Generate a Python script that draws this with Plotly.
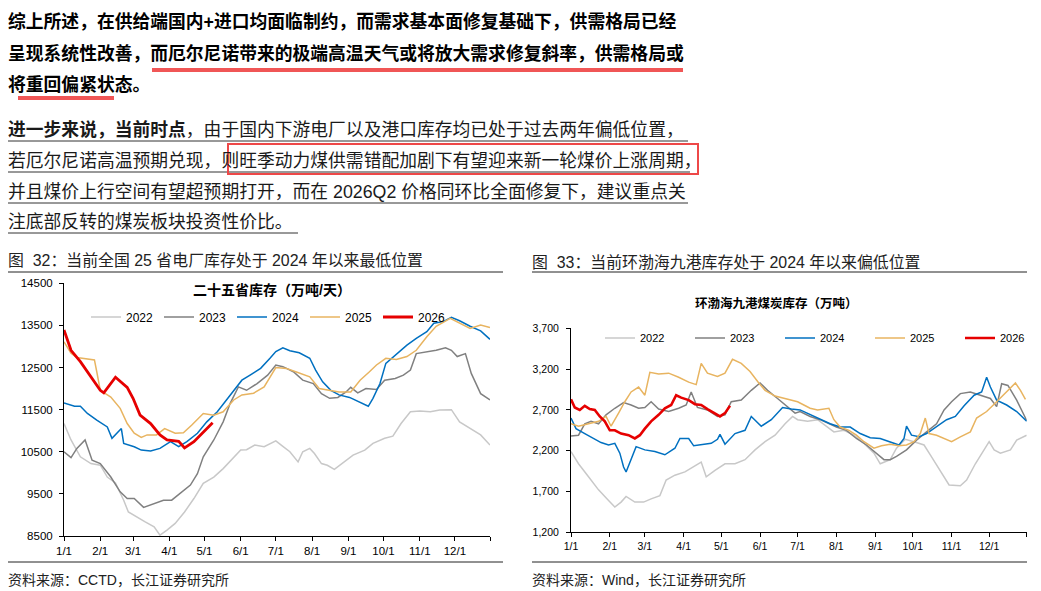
import plotly.graph_objects as go

# ---------------- data: 25 provinces power plant coal stock (10k t) ----------------
L22_DATES = ["01-01", "01-07", "01-15", "01-24", "02-01", "02-07", "02-14", "02-21", "02-25", "03-04",
             "03-11", "03-19", "03-24", "03-30", "04-06", "04-14", "04-22", "04-30", "05-09", "05-17",
             "05-26", "06-01", "06-06", "06-13", "06-21", "07-01", "07-07", "07-13", "07-20", "07-24",
             "07-30", "08-03", "08-09", "08-14", "08-20", "08-27", "09-05", "09-15", "09-22", "10-02",
             "10-09", "10-16", "10-24", "11-01", "11-10", "11-18", "11-28", "12-05", "12-14", "12-23", "12-31"]
L22_VALS = [11170, 10780, 10380, 10220, 10180, 9900, 9760, 9350, 9070, 8950,
            8840, 8720, 8520, 8640, 8800, 9070, 9390, 9750, 9900, 10100,
            10380, 10540, 10550, 10660, 10620, 10760, 10630, 10500, 10260, 10500,
            10580, 10460, 10220, 10180, 10080, 10220, 10420, 10540, 10700, 10820,
            10870, 11170, 11450, 11470, 11450, 11490, 11500, 11210, 11050, 10900, 10660]

L23_DATES = ["01-01", "01-07", "01-12", "01-19", "01-25", "02-01", "02-10", "02-18", "02-24", "03-02",
             "03-10", "03-19", "03-27", "04-03", "04-10", "04-19", "04-25", "04-30", "05-09", "05-17",
             "05-23", "05-30", "06-06", "06-15", "06-24", "07-01", "07-07", "07-16", "07-24", "08-02",
             "08-09", "08-16", "08-23", "08-30", "09-03", "09-09", "09-16", "09-25", "10-02", "10-11",
             "10-18", "10-24", "10-29", "11-07", "11-15", "11-23", "11-28", "12-03", "12-10", "12-15",
             "12-23", "12-31"]
L23_VALS = [10500, 10360, 10580, 10780, 10300, 10220, 9900, 9550, 9390, 9390,
            9180, 9270, 9350, 9350, 9510, 9710, 9980, 10380, 10780, 11210,
            11650, 12040, 11960, 12120, 12320, 12560, 12520, 12400, 12200, 12120,
            11880, 11770, 11790, 11920, 12030, 11900, 12000, 11980, 12200, 12240,
            12320, 12440, 12830, 12870, 12910, 12970, 12910, 12760, 12830, 12360,
            11880, 11730]

L24_DATES = ["01-01", "01-10", "01-15", "01-21", "01-29", "02-07", "02-11", "02-15", "02-19", "02-21",
             "03-02", "03-08", "03-16", "03-24", "04-02", "04-09", "04-16", "04-25", "05-03", "05-12",
             "05-20", "05-26", "06-02", "06-09", "06-18", "06-26", "07-01", "07-07", "07-13", "07-21",
             "07-30", "08-04", "08-10", "08-17", "08-24", "09-02", "09-09", "09-18", "09-22", "09-28",
             "10-03", "10-11", "10-21", "10-29", "11-07", "11-13", "11-21", "11-28", "12-05", "12-14",
             "12-23", "12-31"]
L24_VALS = [11660, 11580, 11580, 11410, 11250, 11090, 10820, 10940, 11050, 10700,
            10620, 10540, 10520, 10580, 10740, 10620, 10740, 10940, 11210, 11450,
            11730, 11960, 12200, 12320, 12480, 12720, 12880, 12970, 12900, 12850,
            12720, 12440, 12160, 11960, 11850, 11790, 11690, 11580, 11770, 12120,
            12600, 12800, 13030, 13190, 13350, 13550, 13590, 13690, 13610, 13480,
            13370, 13170]

L25_DATES = ["01-01", "01-07", "01-12", "01-27", "01-29", "02-01", "02-10", "02-18", "02-24", "03-02",
             "03-08", "03-13", "03-21", "03-28", "04-06", "04-13", "04-20", "04-30", "05-09", "05-17",
             "05-26", "06-02", "06-12", "06-21", "07-01", "07-10", "07-18", "07-30", "08-07", "08-16",
             "08-24", "09-03", "09-11", "09-19", "09-25", "10-03", "10-12", "10-21", "10-29", "11-07",
             "11-15", "11-27", "12-05", "12-14", "12-23", "12-31"]
L25_VALS = [13110, 12840, 12740, 12680, 12400, 11960, 11800, 11530, 11170, 10940,
            10840, 10900, 10900, 11050, 10940, 10950, 11130, 11410, 11370, 11450,
            11730, 11850, 11890, 12040, 12500, 12480, 12400, 12280, 12000, 11960,
            11920, 11920, 12200, 12400, 12560, 12720, 12690, 12760, 12910, 13230,
            13480, 13670, 13550, 13430, 13510, 13450]

L26_DATES = ["01-01", "01-07", "01-15", "01-24", "02-01", "02-04", "02-14", "02-24", "03-01", "03-07",
             "03-16", "03-24", "03-30", "04-09", "04-14", "04-22", "04-30", "05-08"]
L26_VALS = [13390, 12910, 12640, 12280, 11960, 11900, 12270, 12030, 11770, 11370,
            11170, 10900, 10780, 10750, 10590, 10740, 10960, 11190]

# ---------------- data: Bohai Rim nine ports coal stock (10k t) ----------------
R22_DATES = ["01-01", "01-07", "01-15", "01-23", "01-31", "02-05", "02-10", "02-14", "02-21", "02-28",
             "03-06", "03-13", "03-18", "03-25", "04-02", "04-10", "04-15", "04-19", "04-26", "05-04",
             "05-12", "05-20", "05-28", "06-05", "06-13", "06-21", "06-27", "07-01", "07-09", "07-17",
             "07-25", "07-30", "08-07", "08-15", "08-23", "08-31", "09-05", "09-13", "09-18", "09-25",
             "10-02", "10-10", "10-15", "10-23", "10-30", "11-08", "11-13", "11-20", "11-25", "12-01",
             "12-05", "12-10", "12-18", "12-23", "12-31"]
R22_VALS = [2190, 2040, 1880, 1720, 1590, 1510, 1570, 1640, 1570, 1570,
            1610, 1650, 1840, 1900, 1940, 2020, 2060, 1880, 1960, 2040,
            2040, 2090, 2210, 2310, 2390, 2530, 2620, 2580, 2560, 2580,
            2490, 2430, 2450, 2390, 2290, 2170, 2040, 2090, 2230, 2340,
            2310, 2270, 2150, 1960, 1780, 1770, 1840, 2040, 2170, 2310,
            2210, 2170, 2210, 2330, 2390]

R23_DATES = ["01-01", "01-07", "01-12", "01-17", "01-23", "01-29", "02-05", "02-12", "02-18", "02-24",
             "03-01", "03-06", "03-12", "03-20", "03-28", "04-03", "04-07", "04-12", "04-20", "04-28",
             "05-04", "05-09", "05-17", "05-25", "06-01", "06-07", "06-15", "06-23", "06-29", "07-03",
             "07-11", "07-19", "07-27", "08-01", "08-09", "08-17", "08-25", "09-02", "09-08", "09-13",
             "09-18", "09-26", "10-04", "10-12", "10-20", "10-26", "11-01", "11-08", "11-16", "11-24",
             "12-02", "12-07", "12-11", "12-16", "12-23", "12-31"]
R23_VALS = [2380, 2390, 2530, 2560, 2530, 2640, 2720, 2790, 2760, 2720,
            2730, 2800, 2710, 2680, 2720, 2760, 2920, 2730, 2700, 2620,
            2640, 2800, 2820, 2940, 3030, 2940, 2840, 2740, 2660, 2680,
            2620, 2580, 2530, 2490, 2450, 2350, 2270, 2170, 2090, 2090,
            2130, 2210, 2330, 2430, 2530, 2700, 2800, 2900, 2920, 2880,
            2840, 2740, 3020, 3000, 2820, 2570]

R24_DATES = ["01-01", "01-05", "01-12", "01-20", "01-25", "01-31", "02-05", "02-09", "02-12", "02-14",
             "02-18", "02-22", "03-01", "03-09", "03-17", "03-25", "03-29", "04-05", "04-09", "04-15",
             "04-23", "04-28", "04-30", "05-04", "05-12", "05-20", "05-25", "06-02", "06-10", "06-19",
             "06-26", "07-03", "07-11", "07-19", "07-27", "08-04", "08-12", "08-20", "08-28", "09-05",
             "09-13", "09-20", "09-24", "09-26", "09-30", "10-06", "10-12", "10-20", "10-28", "11-04",
             "11-11", "11-19", "11-25", "11-29", "12-02", "12-07", "12-15", "12-23", "12-31"]
R24_VALS = [2600, 2470, 2410, 2340, 2300, 2270, 2290, 2170, 2000, 1940,
            2090, 2250, 2210, 2190, 2150, 2230, 2350, 2350, 2260, 2270,
            2290, 2340, 2400, 2280, 2410, 2450, 2620, 2500, 2580, 2730,
            2710, 2700, 2640, 2580, 2530, 2490, 2490, 2410, 2360, 2350,
            2310, 2270, 2350, 2500, 2390, 2370, 2410, 2500, 2580, 2620,
            2750, 2880, 2920, 3100, 2980, 2820, 2760, 2680, 2560]

R25_DATES = ["01-01", "01-07", "01-15", "01-23", "01-29", "02-02", "02-08", "02-13", "02-18", "02-24",
             "03-01", "03-05", "03-12", "03-20", "03-28", "04-05", "04-11", "04-15", "04-20", "04-28",
             "05-04", "05-10", "05-17", "05-24", "05-31", "06-05", "06-13", "06-21", "06-25", "07-01",
             "07-06", "07-11", "07-17", "07-22", "07-26", "07-30", "08-04", "08-11", "08-17", "08-23",
             "08-31", "09-06", "09-13", "09-20", "09-26", "10-02", "10-07", "10-11", "10-14", "10-20",
             "10-26", "11-01", "11-08", "11-16", "11-21", "11-29", "12-07", "12-15", "12-22", "12-26",
             "12-30"]
R25_VALS = [2530, 2500, 2530, 2560, 2620, 2500, 2660, 2800, 2920, 2980,
            2880, 3160, 3140, 3150, 3100, 3040, 3010, 3270, 3150, 3110,
            3150, 3320, 3270, 3170, 3030, 2940, 2870, 2840, 2830, 2800,
            2760, 2720, 2700, 2710, 2720, 2580, 2490, 2450, 2390, 2310,
            2230, 2260, 2280, 2260, 2270, 2310, 2410, 2600, 2410, 2390,
            2350, 2310, 2370, 2430, 2600, 2680, 2800, 2920, 3030, 2940,
            2830]

R26_DATES = ["01-01", "01-04", "01-08", "01-12", "01-16", "01-20", "01-24", "01-28", "02-01", "02-05",
             "02-10", "02-16", "02-21", "02-25", "03-01", "03-06", "03-12", "03-17", "03-22", "03-26",
             "03-30", "04-05", "04-10", "04-15", "04-20", "04-26", "04-30", "05-04", "05-08"]
R26_VALS = [2830, 2730, 2700, 2750, 2710, 2700, 2620, 2560, 2450, 2450,
            2410, 2390, 2350, 2390, 2470, 2560, 2640, 2720, 2760, 2880,
            2850, 2820, 2770, 2760, 2710, 2660, 2620, 2660, 2750]

YEARS = ["2022", "2023", "2024", "2025", "2026"]
COLORS = ["#C8C8C8", "#808080", "#0070C0", "#E8B460", "#E60000"]
MONTH_TICKS = ["1/1", "2/1", "3/1", "4/1", "5/1", "6/1", "7/1", "8/1", "9/1", "10/1", "11/1", "12/1", ""]

# the page body keeps its default 8px margin, so the figure is sized and
# positioned in reference pixels shifted by that margin
OFF = 8
W, H = 1041 - OFF, 591 - OFF
CN = "Liberation Sans, Noto Sans CJK SC, sans-serif"


def px(x):
    return (x - OFF) / W


def py(y):
    return 1 - (y - OFF) / H


def dt(days):
    return ["2021-" + d for d in days]


fig = go.Figure()

left = [(L22_DATES, L22_VALS), (L23_DATES, L23_VALS), (L24_DATES, L24_VALS),
        (L25_DATES, L25_VALS), (L26_DATES, L26_VALS)]
right = [(R22_DATES, R22_VALS), (R23_DATES, R23_VALS), (R24_DATES, R24_VALS),
         (R25_DATES, R25_VALS), (R26_DATES, R26_VALS)]

for i, (d, v) in enumerate(left):
    fig.add_trace(go.Scatter(x=dt(d), y=v, name=YEARS[i], mode="lines",
                             line=dict(color=COLORS[i], width=2.8 if i == 4 else 1.5),
                             xaxis="x", yaxis="y", legend="legend"))
for i, (d, v) in enumerate(right):
    fig.add_trace(go.Scatter(x=dt(d), y=v, name=YEARS[i], mode="lines",
                             line=dict(color=COLORS[i], width=2.6 if i == 4 else 1.5),
                             xaxis="x2", yaxis="y2", legend="legend2"))

tickvals = ["2021-%02d-01" % m for m in range(1, 13)] + ["2021-12-31"]
axis_common = dict(showline=True, linecolor="black", linewidth=1, ticks="outside", ticklen=4,
                   tickcolor="black", showgrid=False, zeroline=False)

fig.update_layout(
    width=W, height=H, margin=dict(l=0, r=0, t=0, b=0, autoexpand=False),
    paper_bgcolor="white", plot_bgcolor="white",
    font=dict(family=CN, color="#000"),
    xaxis=dict(domain=[px(64), px(490)], type="date", range=["2021-01-01", "2021-12-31"],
               tickvals=tickvals, ticktext=MONTH_TICKS, tickfont=dict(size=11.5), anchor="y",
               **axis_common),
    yaxis=dict(domain=[py(536), py(283.3)], range=[8500, 14500], tick0=8500, dtick=1000,
               tickformat="d", tickfont=dict(size=11.5), anchor="x", ticklabelstandoff=4,
               **axis_common),
    xaxis2=dict(domain=[px(571), px(1026.7)], type="date", range=["2021-01-01", "2021-12-31"],
                tickvals=tickvals, ticktext=MONTH_TICKS, tickfont=dict(size=10.5), anchor="y2",
                **axis_common),
    yaxis2=dict(domain=[py(532.3), py(328.3)], range=[1200, 3700], tick0=1200, dtick=500,
                tickformat=",", tickfont=dict(size=10.5), anchor="x2", ticklabelstandoff=5,
                **axis_common),
    legend=dict(orientation="h", x=px(86), y=py(317), xanchor="left", yanchor="middle",
                entrywidth=28, entrywidthmode="pixels", font=dict(size=12), bgcolor="rgba(0,0,0,0)"),
    legend2=dict(orientation="h", x=px(600), y=py(338), xanchor="left", yanchor="middle",
                 entrywidth=45, entrywidthmode="pixels", font=dict(size=11), bgcolor="rgba(0,0,0,0)"),
    showlegend=True,
)


def text(x, y, s, size, color="#000", anchor="left"):
    fig.add_annotation(x=px(x), y=py(y), xref="paper", yref="paper", text=s, showarrow=False,
                       xanchor=anchor, yanchor="middle", font=dict(size=size, color=color, family=CN))


def hline(x0, x1, y, color="black", width=1):
    fig.add_shape(type="line", xref="paper", yref="paper", x0=px(x0), x1=px(x1), y0=py(y), y1=py(y),
                  line=dict(color=color, width=width))


# paragraph 1
text(6, 21, "<b>综上所述，在供给端国内+进口均面临制约，而需求基本面修复基础下，供需格局已经</b>", 17.8)
text(6, 53, "<b>呈现系统性改善，而厄尔尼诺带来的极端高温天气或将放大需求修复斜率，供需格局或</b>", 17.8)
text(6, 85, "<b>将重回偏紧状态。</b>", 17.8)
hline(152, 683, 70, "#F05656", 4)
hline(18, 114, 98, "#F05656", 4)

# paragraph 2
text(6, 130, "<b>进一步来说，当前时点</b>，由于国内下游电厂以及港口库存均已处于过去两年偏低位置，", 17.8, "#1a1a1a")
text(6, 161, "若厄尔尼诺高温预期兑现，则旺季动力煤供需错配加剧下有望迎来新一轮煤价上涨周期，", 17.8, "#1a1a1a")
text(6, 192, "并且煤价上行空间有望超预期打开，而在 2026Q2 价格同环比全面修复下，建议重点关", 17.8, "#1a1a1a")
text(6, 222, "注底部反转的煤炭板块投资性价比。", 17.8, "#1a1a1a")
for yy, x1 in [(141, 688), (172, 690), (203, 688), (233, 298)]:
    hline(8, x1, yy, "#333", 1)
fig.add_shape(type="rect", xref="paper", yref="paper", x0=px(228), x1=px(698), y0=py(174), y1=py(144),
              line=dict(color="#EE4848", width=2))

# captions
text(6, 260, "图  32：当前全国 25 省电厂库存处于 2024 年以来最低位置", 15.9, "#222")
text(530, 262, "图  33：当前环渤海九港库存处于 2024 年以来偏低位置", 15.9, "#222")
hline(8, 503, 272, "#222", 1)
hline(532, 1027, 272, "#222", 1)
hline(8, 503, 562, "#222", 1)
hline(532, 1027, 562, "#222", 1)
text(6, 580, "资料来源：CCTD，长江证券研究所", 14, "#222")
text(530, 580, "资料来源：Wind，长江证券研究所", 14, "#222")

# chart titles
text(272, 290, "<b>二十五省库存（万吨/天）</b>", 14, anchor="center")
text(776, 303, "<b>环渤海九港煤炭库存（万吨）</b>", 12.5, anchor="center")

fig.write_html("out.html")
